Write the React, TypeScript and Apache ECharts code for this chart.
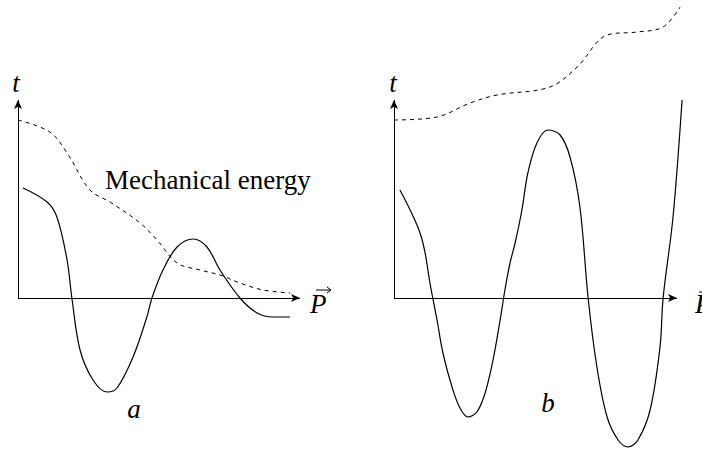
import React, { useEffect, useRef } from "react";
import * as echarts from "echarts";

// Panel a: dashed "mechanical energy" curve and solid curve, [P, t]
const energyA: number[][] = [
  [0, 8.9], [1.13, 8.3], [1.74, 7.25], [2.55, 5.4], [3.26, 4.8], [4.33, 3.75],
  [4.93, 2.9], [5.64, 1.75], [6.45, 1.4], [7.16, 1.15], [7.87, 0.75], [8.69, 0.4], [9.65, 0.25],
];
const curveA: number[][] = [
  [0.18, 5.5], [1.03, 4.8], [1.38, 4.05], [1.74, 1.9], [1.91, 0], [2.2, -2.6],
  [2.66, -4.1], [3.16, -4.7], [3.51, -4.5], [4.08, -2.95], [4.57, -0.95], [4.75, 0],
  [5.14, 1.4], [5.64, 2.55], [6.21, 2.95], [6.7, 2.55], [7.16, 1.4], [7.87, 0],
  [8.48, -0.75], [9.04, -0.95], [9.65, -0.95],
];
// Panel b
const energyB: number[][] = [
  [0, 8.9], [1.52, 9.05], [2.69, 9.75], [3.64, 10.15], [5.51, 10.55], [6.47, 11.55],
  [7.53, 13.15], [8.59, 13.3], [9.51, 13.55], [10.11, 14.55],
];
const curveB: number[][] = [
  [0.21, 5.4], [0.57, 4.4], [0.92, 3.25], [1.1, 2.25], [1.27, 0.75], [1.52, -1.1],
  [1.73, -2.75], [2.05, -4.45], [2.33, -5.5], [2.61, -5.95], [2.93, -5.7], [3.22, -4.75],
  [3.5, -3.1], [3.75, -1.1], [3.92, 0.4], [4.1, 1.75], [4.28, 2.75], [4.52, 4.4],
  [4.73, 6.25], [5.05, 7.75], [5.44, 8.4], [5.87, 8.15], [6.22, 7.05], [6.57, 4.55],
  [6.86, 0], [7.17, -3.45], [7.53, -5.95], [7.92, -7.1], [8.27, -7.45], [8.62, -7.1],
  [9.05, -5.6], [9.4, -2.45], [9.51, 0], [9.86, 4.05], [10.18, 9.9],
];
const axisEndP = 10;
const axisEndT = 9.9;
const yMin = -7.6;
const yMax = 14.9;

const App: React.FC = () => {
  const ref = useRef<HTMLDivElement>(null);
  useEffect(() => {
    if (!ref.current) return;
    const chart = echarts.init(ref.current, undefined, { renderer: "svg" });
    const serif = "Liberation Serif";
    const italicText = (text: string, x: number, y: number, align = "center") => ({
      type: "text",
      x,
      y,
      style: {
        text,
        fontFamily: serif,
        fontSize: 27,
        fontStyle: "italic",
        fill: "#000",
        align,
        verticalAlign: "middle",
      },
    });
    const axesMarkLine = {
      silent: true,
      symbol: ["none", "arrow"],
      symbolSize: [6, 9],
      label: { show: false },
      lineStyle: { color: "#000", width: 1, type: "solid" },
      data: [
        [{ coord: [0, 0] }, { coord: [axisEndP, 0] }],
        [{ coord: [0, 0] }, { coord: [0, axisEndT] }],
      ],
    };
    const xAxisBase = { type: "value", min: 0, max: 10.4, show: false };
    const yAxisBase = { type: "value", min: yMin, max: yMax, show: false };
    const lineBase = {
      type: "line",
      smooth: 0.35,
      showSymbol: false,
      symbol: "none",
      silent: true,
    };
    chart.setOption({
      animation: false,
      backgroundColor: "#fff",
      grid: [
        { left: 18, top: 0, width: 293.3, height: 450 },
        { left: 394, top: 0, width: 294.3, height: 450 },
      ],
      xAxis: [
        { ...xAxisBase, gridIndex: 0 },
        { ...xAxisBase, gridIndex: 1 },
      ],
      yAxis: [
        { ...yAxisBase, gridIndex: 0 },
        { ...yAxisBase, gridIndex: 1 },
      ],
      series: [
        {
          ...lineBase,
          name: "axes a",
          xAxisIndex: 0,
          yAxisIndex: 0,
          data: [],
          markLine: axesMarkLine,
        },
        {
          ...lineBase,
          name: "Mechanical energy a",
          xAxisIndex: 0,
          yAxisIndex: 0,
          data: energyA,
          lineStyle: { color: "#000", width: 1, type: [4, 4] },
        },
        {
          ...lineBase,
          name: "curve a",
          xAxisIndex: 0,
          yAxisIndex: 0,
          data: curveA,
          lineStyle: { color: "#000", width: 1.2 },
        },
        {
          ...lineBase,
          name: "axes b",
          xAxisIndex: 1,
          yAxisIndex: 1,
          data: [],
          markLine: axesMarkLine,
        },
        {
          ...lineBase,
          name: "Mechanical energy b",
          xAxisIndex: 1,
          yAxisIndex: 1,
          data: energyB,
          lineStyle: { color: "#000", width: 1, type: [4, 4] },
        },
        {
          ...lineBase,
          name: "curve b",
          xAxisIndex: 1,
          yAxisIndex: 1,
          data: curveB,
          lineStyle: { color: "#000", width: 1.2 },
        },
      ],
      graphic: [
        {
          type: "text",
          x: 105,
          y: 180,
          style: {
            text: "Mechanical energy",
            fontFamily: serif,
            fontSize: 27,
            fill: "#000",
            align: "left",
            verticalAlign: "middle",
          },
        },
        italicText("t", 16, 83),
        italicText("t", 393, 83),
        italicText("a", 134, 409),
        italicText("b", 548, 403),
        italicText("P", 310, 304, "left"),
        {
          type: "line",
          shape: { x1: 316, y1: 290, x2: 331, y2: 290 },
          style: { stroke: "#000", lineWidth: 1 },
        },
        {
          type: "polyline",
          shape: { points: [[327, 287], [331, 290], [327, 293]] },
          style: { stroke: "#000", lineWidth: 1, fill: "none" },
        },
        italicText("P", 695, 304, "left"),
        {
          type: "line",
          shape: { x1: 699, y1: 292, x2: 712, y2: 292 },
          style: { stroke: "#000", lineWidth: 1 },
        },
      ],
    });
    return () => chart.dispose();
  }, []);
  return <div ref={ref} style={{ width: 702, height: 450, position: "absolute", left: 0, top: 0 }} />;
};

export default App;
